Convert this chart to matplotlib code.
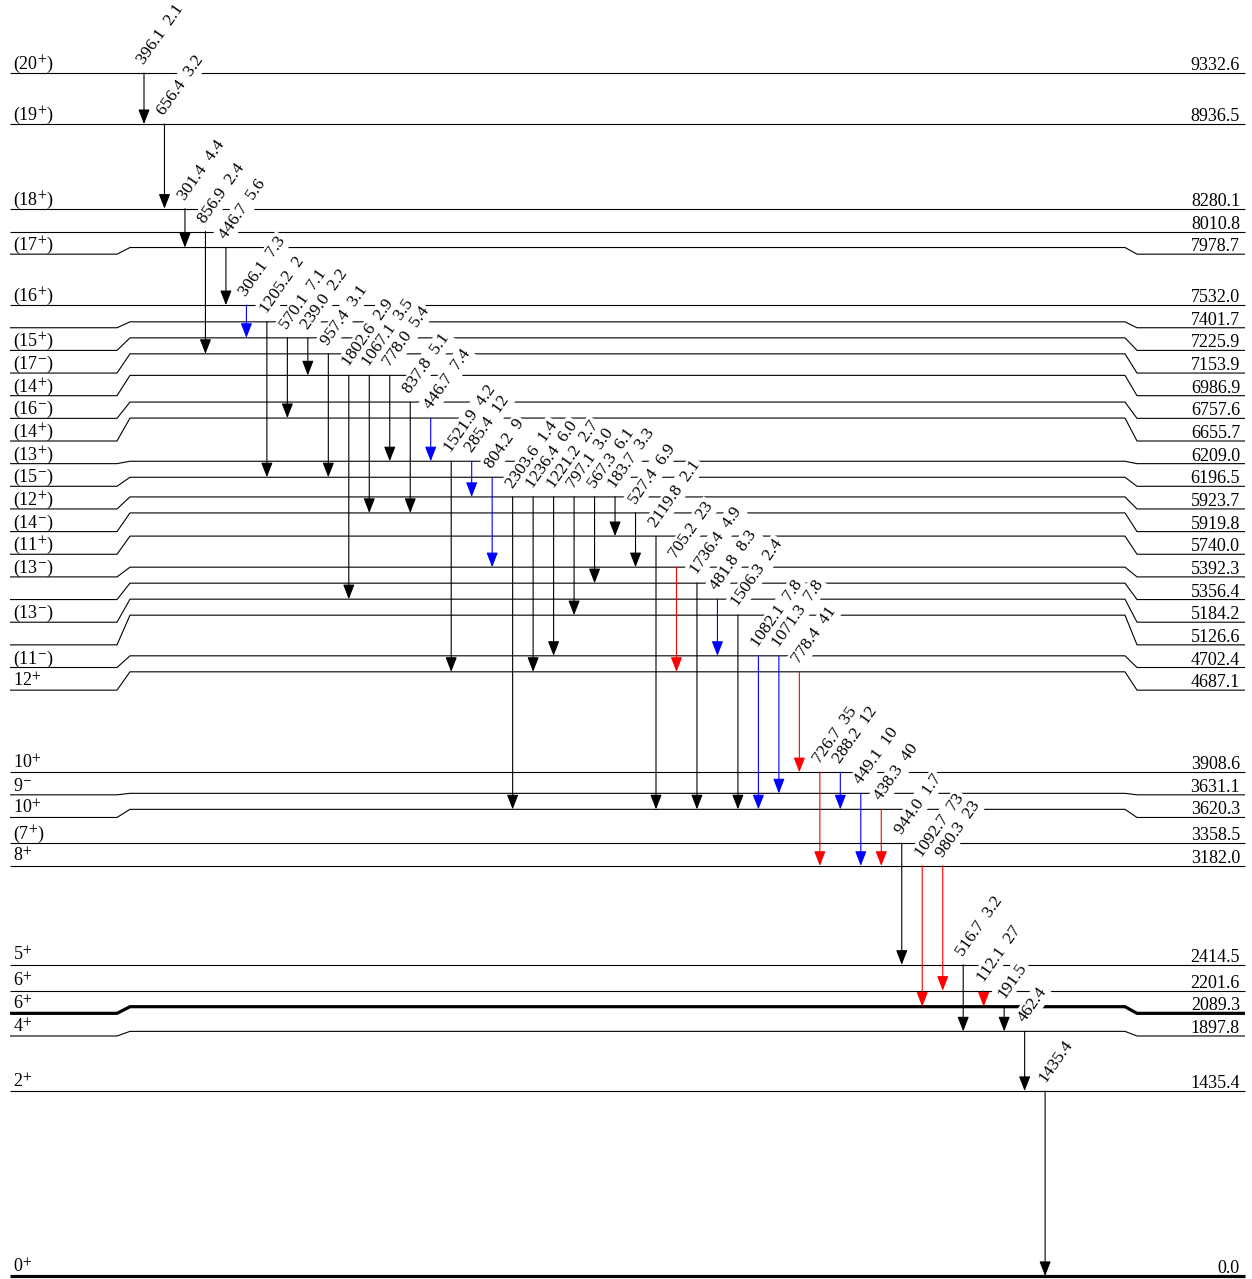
import matplotlib
matplotlib.use("Agg")
import matplotlib.pyplot as plt

plt.rcParams['font.family'] = ['Liberation Serif', 'DejaVu Serif']
plt.rcParams['mathtext.fontset'] = 'stix'

# ---------------- data ----------------
level_energies = [0.0, 1435.4, 1897.8, 2089.3, 2201.6, 2414.5, 3182.0, 3358.5,
                  3620.3, 3631.1, 3908.6, 4687.1, 4702.4, 5126.6, 5184.2, 5356.4,
                  5392.3, 5740.0, 5919.8, 5923.7, 6196.5, 6209.0, 6655.7, 6757.6,
                  6986.9, 7153.9, 7225.9, 7401.7, 7532.0, 7978.7, 8010.8, 8280.1,
                  8936.5, 9332.6]
level_spins = ["0$^{+}$", "2$^{+}$", "4$^{+}$", "6$^{+}$", "6$^{+}$", "5$^{+}$",
               "8$^{+}$", "(7$^{+}$)", "10$^{+}$", "9$^{-}$", "10$^{+}$", "12$^{+}$",
               "(11$^{-}$)", "", "(13$^{-}$)", "", "(13$^{-}$)", "(11$^{+}$)",
               "(14$^{-}$)", "(12$^{+}$)", "(15$^{-}$)", "(13$^{+}$)", "(14$^{+}$)",
               "(16$^{-}$)", "(14$^{+}$)", "(17$^{-}$)", "(15$^{+}$)", "",
               "(16$^{+}$)", "(17$^{+}$)", "", "(18$^{+}$)", "(19$^{+}$)", "(20$^{+}$)"]
thick_levels = [0.0, 2089.3]

gamma_energy = ["396.1", "656.4", "301.4", "856.9", "446.7", "306.1", "1205.2", "570.1",
                "239.0", "957.4", "1802.6", "1067.1", "778.0", "837.8", "446.7", "1521.9",
                "285.4", "804.2", "2303.6", "1236.4", "1221.2", "797.1", "567.3", "183.7",
                "527.4", "2119.8", "705.2", "1736.4", "481.8", "1506.3", "1082.1", "1071.3",
                "778.4", "726.7", "288.2", "449.1", "438.3", "944.0", "1092.7", "980.3",
                "516.7", "112.1", "191.5", "462.4", "1435.4"]
gamma_intensity = ["2.1", "3.2", "4.4", "2.4", "5.6", "7.3", "2", "7.1",
                   "2.2", "3.1", "2.9", "3.5", "5.4", "5.1", "7.4", "4.2",
                   "12", "9", "1.4", "6.0", "2.7", "3.0", "6.1", "3.3",
                   "6.9", "2.1", "23", "4.9", "8.3", "2.4", "7.8", "7.8",
                   "41", "35", "12", "10", "40", "1.7", "73", "23",
                   "3.2", "27", "", "", ""]
gamma_from = [9332.6, 8936.5, 8280.1, 8010.8, 7978.7, 7532.0, 7401.7, 7225.9,
              7225.9, 7153.9, 6986.9, 6986.9, 6986.9, 6757.6, 6655.7, 6209.0,
              6209.0, 6196.5, 5923.7, 5923.7, 5923.7, 5923.7, 5923.7, 5923.7,
              5919.8, 5740.0, 5392.3, 5356.4, 5184.2, 5126.6, 4702.4, 4702.4,
              4687.1, 3908.6, 3908.6, 3631.1, 3620.3, 3358.5, 3182.0, 3182.0,
              2414.5, 2201.6, 2089.3, 1897.8, 1435.4]
gamma_to = [8936.5, 8280.1, 7978.7, 7153.9, 7532.0, 7225.9, 6196.5, 6655.7,
            6986.9, 6196.5, 5184.2, 5919.8, 6209.0, 5919.8, 6209.0, 4687.1,
            5923.7, 5392.3, 3620.3, 4687.1, 4702.4, 5126.6, 5356.4, 5740.0,
            5392.3, 3620.3, 4687.1, 3620.3, 4702.4, 3620.3, 3620.3, 3631.1,
            3908.6, 3182.0, 3620.3, 3182.0, 3182.0, 2414.5, 2089.3, 2201.6,
            1897.8, 2089.3, 1897.8, 1435.4, 0.0]
gamma_color = ["k", "k", "k", "k", "k", "b", "k", "k",
               "k", "k", "k", "k", "k", "k", "b", "k",
               "b", "b", "k", "k", "k", "k", "k", "k",
               "k", "k", "r", "k", "b", "k", "b", "b",
               "r", "r", "b", "b", "r", "k", "r", "r",
               "k", "r", "k", "k", "k"]

# ---------------- layout ----------------
W, H = 1252, 1279
scale = 1203.0 / 9332.6           # px per keV
min_gap = 16.0 / scale            # minimum spacing of level lines (keV)
lab_gap = 22.65 / scale           # minimum spacing of side labels (keV)

color_map = {"k": "black", "b": "#0000ff", "r": "#ff0000"}

# displayed level positions (bottom-up push)
disp = []
for i, e in enumerate(level_energies):
    disp.append(e if i == 0 else max(e, disp[-1] + min_gap))
disp_of = dict(zip(level_energies, disp))

# side label positions (top-down push)
lab = [0.0] * len(disp)
for i in range(len(disp) - 1, -1, -1):
    lab[i] = disp[i] if i == len(disp) - 1 else min(disp[i], lab[i + 1] - lab_gap)

fig = plt.figure(figsize=(W / 100, H / 100), dpi=100)
ax = fig.add_axes([0, 0, 1, 1])
ax.set_xlim(0, W)
ax.set_ylim(-3 / scale, 1276 / scale)
ax.axis('off')

xl0, xl1, xm0, xm1, xr0, xr1 = 10, 117, 130, 1125, 1137, 1245

for e, d, l, sp in zip(level_energies, disp, lab, level_spins):
    lw = 2.3 if e in thick_levels else 0.8
    ax.plot([xl0, xl1, xm0, xm1, xr0, xr1], [l, l, d, d, l, l],
            color='black', lw=lw, zorder=1, solid_capstyle='butt',
            solid_joinstyle='miter')
    if sp:
        ax.annotate(sp, xy=(13, l), xytext=(0, 4), textcoords='offset pixels',
                    ha='left', va='baseline', fontsize=13, zorder=4)
    ax.annotate(f"{e:.1f}", xy=(1240, l), xytext=(0, 3), textcoords='offset pixels',
                ha='right', va='baseline', fontsize=13, zorder=4)

x0, dx = 144.0, 20.48
for i, (ge, gi, gf, gt, gc) in enumerate(zip(gamma_energy, gamma_intensity,
                                             gamma_from, gamma_to, gamma_color)):
    x = x0 + i * dx
    c = color_map[gc]
    y1, y2 = disp_of[gf], disp_of[gt]
    ax.annotate("", xy=(x, y2), xytext=(x, y1),
                arrowprops=dict(arrowstyle="-|>,head_length=0.9,head_width=0.35",
                                mutation_scale=10, color=c, lw=0.8,
                                shrinkA=0, shrinkB=0),
                zorder=2)
    txt = ge + ("  " + gi if gi else "")
    ax.annotate(txt, xy=(x, y1), xytext=(0, 8), textcoords='offset pixels',
                rotation=55, rotation_mode='anchor', ha='left', va='baseline',
                fontsize=12.5, zorder=3,
                bbox=dict(boxstyle='square,pad=0.12', fc='white', ec='none'))

fig.savefig("out.png", dpi=100, facecolor='white')
